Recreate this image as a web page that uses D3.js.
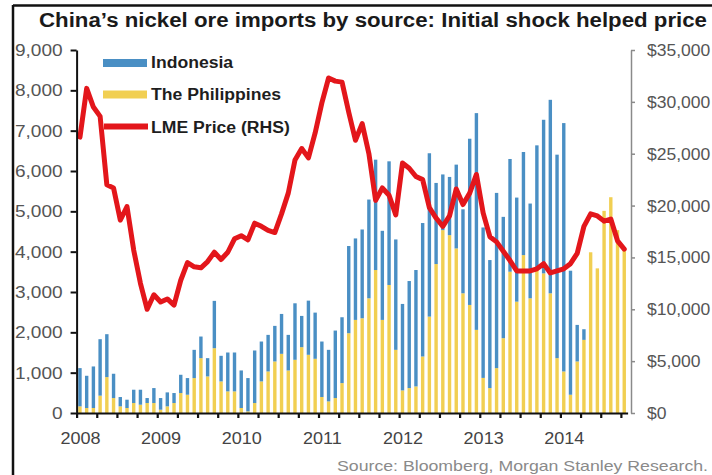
<!DOCTYPE html>
<html><head><meta charset="utf-8">
<script src="https://cdn.jsdelivr.net/npm/d3@7"></script>
<style>
html,body{margin:0;padding:0;background:#fff;}
svg{display:block;font-family:"Liberation Sans",Arial,sans-serif;}
</style></head>
<body><svg id="c" width="712" height="475"></svg>
<script>
// ---- data ----
const yearLabels = ["2008","2009","2010","2011","2012","2013","2014"];
const months = [];
yearLabels.forEach(y => { for (let m = 1; m <= 12; m++) months.push(y + "-" + String(m).padStart(2, "0")); });
months.length = 82; // Jan 2008 .. Oct 2014

// Philippines (bottom, yellow), '000 t
const philippines = [165,124,124,430,890,370,165,124,247,206,247,247,
  82,165,247,495,453,866,1360,907,1607,783,536,536,
  124,41,247,783,1030,1278,1467,1055,1319,1632,1443,1344,
  396,288,371,742,1978,2308,2349,2844,3545,2308,3174,1566,
  560,618,659,1401,2390,3693,4534,4410,4080,2968,2679,2061,
  870,618,1113,1855,3503,2761,3915,2844,3545,3462,2968,1360,
  1030,453,1278,1813,3985,3586,5012,5350,4534,4080];
// Indonesia (stacked on top, blue), '000 t
const indonesia = [948,799,1030,1400,1064,603,231,206,330,371,124,371,
  289,346,248,453,413,700,536,453,1173,635,964,964,
  931,825,1303,989,907,882,989,882,1401,775,1343,1145,
  1376,1278,1673,1632,2162,2020,2201,2448,2736,2209,3066,2737,
  2144,2654,2886,3309,4050,2011,1381,1443,2078,2082,4121,5374,
  3730,3174,4344,3008,2795,2580,2556,2349,3091,3808,4797,5045,
  6158,3075,906,264,0,0,0,0,0,0];
// LME nickel price, US$/t (RHS)
const lmePrice = [26600,31300,29500,28600,22000,21700,18600,19900,15700,12500,10000,11400,
  10700,11000,10400,12800,14500,14100,14000,14600,15500,14800,15500,16800,
  17100,16700,18300,18000,17600,17400,19200,21200,24400,25500,24600,27000,
  29900,32300,32000,31900,29000,26300,27900,25000,20500,21700,21000,19100,
  24100,23600,22800,22500,19800,18800,18000,19000,21600,20100,21200,23000,
  19300,17000,16500,15600,14700,13700,13700,13700,13900,14400,13500,13700,
  13900,14400,15400,18000,19200,19000,18500,18700,16600,15800];
const leftTicks = [0,1000,2000,3000,4000,5000,6000,7000,8000,9000];
const rightTicks = [0,5000,10000,15000,20000,25000,30000,35000];
const seriesNames = ["Indonesia","The Philippines","LME Price (RHS)"];
const colors = {indo:"#4a8fc4", phil:"#f1cf52", lme:"#e3161b"};

// ---- drawing ----
const svg = d3.select("#c");
const X0 = 76.6, X1 = 627.6, Y0 = 413, Y1 = 50;
const x = d3.scaleLinear().domain([0, months.length]).range([X0, X1]);
const yL = d3.scaleLinear().domain([0, 9000]).range([Y0, Y1]);
const yR = d3.scaleLinear().domain([0, 35000]).range([Y0, Y1]);
const bw = 3.4;

function stretch(sel, k) {
  sel.each(function () {
    const l = this.getComputedTextLength();
    this.setAttribute("textLength", l * k);
    this.setAttribute("lengthAdjust", "spacingAndGlyphs");
  });
}

// frame
svg.append("line").attr("x1",13).attr("x2",13).attr("y1",5).attr("y2",475).attr("stroke","#111").attr("stroke-width",2.5);
svg.append("line").attr("x1",13).attr("x2",712).attr("y1",5.5).attr("y2",5.5).attr("stroke","#111").attr("stroke-width",2.5);

// title
svg.append("text").attr("x",39).attr("y",27).attr("font-weight","bold").attr("font-size",20).attr("fill","#1a1a1a")
  .attr("textLength",668).attr("lengthAdjust","spacingAndGlyphs")
  .text("China\u2019s nickel ore imports by source: Initial shock helped price");

// bars
const bars = svg.append("g");
bars.selectAll("rect.p").data(philippines).join("rect").attr("class","p")
  .attr("x",(d,i)=>x(i+0.5)-bw/2).attr("width",bw)
  .attr("y",d=>yL(d)).attr("height",d=>Y0-yL(d)).attr("fill",colors.phil);
bars.selectAll("rect.i").data(indonesia).join("rect").attr("class","i")
  .attr("x",(d,i)=>x(i+0.5)-bw/2).attr("width",bw)
  .attr("y",(d,i)=>yL(d+philippines[i])).attr("height",(d,i)=>yL(philippines[i])-yL(d+philippines[i]))
  .attr("fill",colors.indo);

// line
svg.append("path").datum(lmePrice)
  .attr("d", d3.line().x((d,i)=>x(i+0.5)).y(d=>yR(d)))
  .attr("fill","none").attr("stroke",colors.lme).attr("stroke-width",5)
  .attr("stroke-linejoin","round").attr("stroke-linecap","round");

// left axis
const gl = svg.append("g").attr("transform",`translate(${X0},0)`)
  .call(d3.axisLeft(yL).tickValues(leftTicks).tickFormat(d3.format(",")).tickSize(6).tickSizeOuter(0).tickPadding(8));
gl.select(".domain").attr("stroke","#111").attr("stroke-width",2);
gl.selectAll(".tick line").attr("stroke","#111").attr("stroke-width",2);
gl.selectAll("text").attr("font-size",17).attr("fill","#555").attr("font-family","Liberation Sans, Arial, sans-serif");
stretch(gl.selectAll("text"), 1.12);

// right axis
const gr = svg.append("g").attr("transform",`translate(631,0)`)
  .call(d3.axisRight(yR).tickValues(rightTicks).tickFormat(d=>"$"+d3.format(",")(d)).tickSize(4).tickSizeOuter(0).tickPadding(12));
gr.select(".domain").attr("stroke","#8a8a8a").attr("stroke-width",1.5);
gr.selectAll(".tick line").attr("stroke","#8a8a8a").attr("stroke-width",1.5);
gr.selectAll("text").attr("font-size",17).attr("fill","#555").attr("font-family","Liberation Sans, Arial, sans-serif");
stretch(gr.selectAll("text"), 1.03);

// bottom axis: quarterly ticks
const gb = svg.append("g").attr("transform",`translate(0,${Y0})`)
  .call(d3.axisBottom(x).tickValues(d3.range(0, months.length, 3)).tickFormat("").tickSize(5).tickSizeOuter(0));
gb.select(".domain").attr("stroke","#111").attr("stroke-width",2.2);
gb.selectAll(".tick line").attr("stroke","#111").attr("stroke-width",2.2);
// year labels
const gy = svg.append("g").attr("transform",`translate(0,${Y0})`)
  .call(d3.axisBottom(x).tickValues(yearLabels.map((_,k)=>k*12+0.5)).tickFormat((d,k)=>yearLabels[k]).tickSize(0).tickPadding(19));
gy.select(".domain").remove();
gy.selectAll("text").attr("font-size",17).attr("fill","#444").attr("font-family","Liberation Sans, Arial, sans-serif");
stretch(gy.selectAll("text"), 1.06);

// legend
const lg = svg.append("g");
lg.append("rect").attr("x",103).attr("y",59).attr("width",44).attr("height",8).attr("fill",colors.indo);
lg.append("rect").attr("x",103).attr("y",90.5).attr("width",44).attr("height",8).attr("fill",colors.phil);
lg.append("line").attr("x1",104).attr("x2",148).attr("y1",126.5).attr("y2",126.5).attr("stroke",colors.lme).attr("stroke-width",6);
const lt = lg.selectAll("text").data(seriesNames).join("text")
  .attr("x",151).attr("y",(d,i)=>[68.3,100,132.5][i])
  .attr("font-weight","bold").attr("font-size",16).attr("fill","#1e1e1e").text(d=>d);
stretch(lt, 1.1);

// source
svg.append("text").attr("x",708).attr("y",471).attr("text-anchor","end").attr("font-size",15).attr("fill","#8a8a8a")
  .attr("textLength",371).attr("lengthAdjust","spacingAndGlyphs")
  .text("Source: Bloomberg, Morgan Stanley Research.");
</script></body></html>
